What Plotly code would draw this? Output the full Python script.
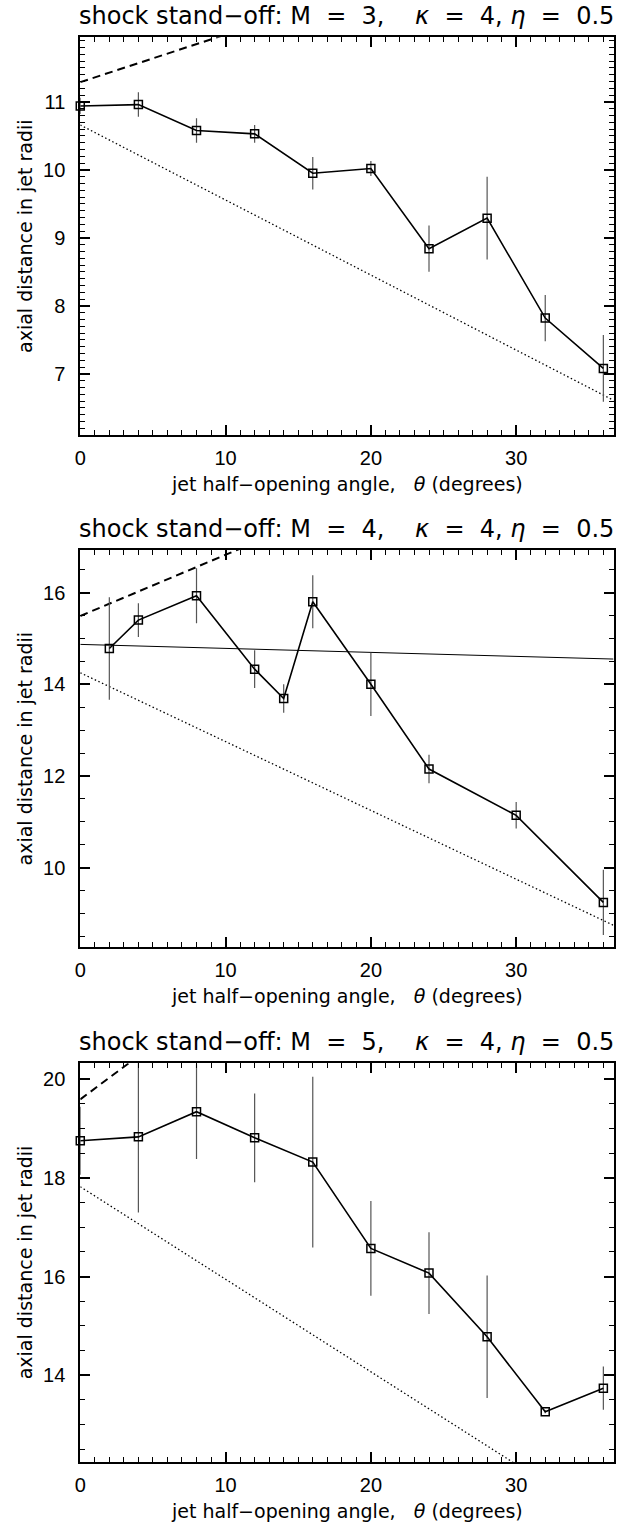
import plotly.graph_objects as go

W, H = 617, 1522

# ---------------- data ----------------
# Panel 1: M = 3
theta_m3 = [0, 4, 8, 12, 16, 20, 24, 28, 32, 36]
dist_m3 = [10.94, 10.96, 10.58, 10.53, 9.95, 10.02, 8.84, 9.29, 7.82, 7.08]
err_m3 = [0.12, 0.18, 0.18, 0.13, 0.24, 0.11, 0.34, 0.61, 0.34, 0.49]
dash_x_m3 = [0, 36.7]
dash_y_m3 = [11.29, 13.86]
dot_x_m3 = [0, 36.7]
dot_y_m3 = [10.66, 6.61]

# Panel 2: M = 4
theta_m4 = [2, 4, 8, 12, 14, 16, 20, 24, 30, 36]
dist_m4 = [14.78, 15.40, 15.93, 14.33, 13.69, 15.80, 14.00, 12.15, 11.14, 9.24]
err_m4 = [1.12, 0.37, 0.60, 0.41, 0.31, 0.58, 0.69, 0.31, 0.29, 0.71]
dash_x_m4 = [0, 36.7]
dash_y_m4 = [15.49, 20.39]
dot_x_m4 = [0, 36.7]
dot_y_m4 = [14.25, 8.74]
fit_x_m4 = [0, 36.7]
fit_y_m4 = [14.87, 14.55]

# Panel 3: M = 5
theta_m5 = [0, 4, 8, 12, 16, 20, 24, 28, 32, 36]
dist_m5 = [18.75, 18.83, 19.34, 18.81, 18.32, 16.57, 16.07, 14.78, 13.26, 13.74]
err_m5 = [0.69, 1.53, 0.96, 0.90, 1.73, 0.96, 0.83, 1.24, 0.03, 0.44]
dash_x_m5 = [0, 36.7]
dash_y_m5 = [19.59, 27.63]
dot_x_m5 = [0, 36.7]
dot_y_m5 = [17.82, 10.94]

mach_values = ["3", "4", "5"]
y_ranges = [[6.10, 11.95], [8.26, 16.93], [12.25, 20.32]]
y_dticks = [1, 2, 2]
y_minor = [0.1, 0.5, 0.5]
x_range = [0, 36.7]
x_dtick = 10
x_minor = 1

# ---------------- layout geometry (pixels) ----------------
left_px, right_px = 75, 613.5
panels_px = [(37.3, 435.0), (550.0, 947.3), (1063.3, 1461.7)]

FONT = "DejaVu Sans"
TICKFONT = "Liberation Sans"
fig = go.Figure()

panels = [
    (theta_m3, dist_m3, err_m3, dash_x_m3, dash_y_m3, dot_x_m3, dot_y_m3, None, None),
    (theta_m4, dist_m4, err_m4, dash_x_m4, dash_y_m4, dot_x_m4, dot_y_m4, fit_x_m4, fit_y_m4),
    (theta_m5, dist_m5, err_m5, dash_x_m5, dash_y_m5, dot_x_m5, dot_y_m5, None, None),
]

NB = "\u00a0"
EQ = NB * 2 + "=" + NB * 2
annotations = []
for i, (tx, dy, de, dsx, dsy, dtx, dty, fx, fy) in enumerate(panels):
    n = "" if i == 0 else str(i + 1)
    xa, ya = "x" + n, "y" + n
    fig.add_trace(go.Scatter(x=dsx, y=dsy, mode="lines", xaxis=xa, yaxis=ya,
                             line=dict(color="black", width=2, dash="8px,5px"), showlegend=False))
    fig.add_trace(go.Scatter(x=dtx, y=dty, mode="lines", xaxis=xa, yaxis=ya,
                             line=dict(color="black", width=1.3, dash="1.5px,2.5px"), showlegend=False))
    if fx is not None:
        fig.add_trace(go.Scatter(x=fx, y=fy, mode="lines", xaxis=xa, yaxis=ya,
                                 line=dict(color="black", width=1), showlegend=False))
    fig.add_trace(go.Scatter(x=tx, y=dy, mode="lines+markers", xaxis=xa, yaxis=ya,
                             line=dict(color="black", width=1.6),
                             marker=dict(symbol="square-open", size=8, color="black",
                                         line=dict(width=1.5, color="black")),
                             error_y=dict(type="data", array=de, visible=True, width=0,
                                          thickness=1.2, color="#555555"),
                             cliponaxis=False, showlegend=False))

    top_px, bot_px = panels_px[i]
    dom_y = [1 - bot_px / H, 1 - top_px / H]
    axis_common = dict(showline=True, linewidth=2, linecolor="black", mirror="allticks",
                       ticks="inside", tickcolor="black", tickwidth=1.6, ticklen=10,
                       showgrid=False, zeroline=False, tick0=0,
                       tickfont=dict(family=TICKFONT, size=20, color="black"))
    fig.layout["xaxis" + n] = dict(
        domain=[left_px / W, right_px / W], range=x_range, anchor=ya,
        dtick=x_dtick, ticklabelstandoff=4,
        minor=dict(ticks="inside", dtick=x_minor, tick0=0, ticklen=5, tickcolor="black",
                   tickwidth=1.4, showgrid=False),
        **axis_common)
    fig.layout["yaxis" + n] = dict(
        domain=dom_y, range=y_ranges[i], anchor=xa,
        dtick=y_dticks[i], ticklabelstandoff=9,
        minor=dict(ticks="inside", dtick=y_minor[i], tick0=0, ticklen=5, tickcolor="black",
                   tickwidth=1.4, showgrid=False),
        **axis_common)

    # title
    annotations.append(dict(
        text="shock stand\u2212off:" + NB + "M" + EQ + mach_values[i] + "," + NB * 4
             + "<i>\u03ba</i>" + EQ + "4," + NB + "<i>\u03b7</i>" + EQ + "0.5",
        x=(left_px + right_px) / 2 / W, y=1 - (top_px - 5) / H, xref="paper", yref="paper",
        xanchor="center", yanchor="bottom", showarrow=False,
        font=dict(family=FONT, size=24, color="black")))
    # x title
    annotations.append(dict(
        text="jet half\u2212opening angle," + NB * 3 + "<i>\u03b8</i>" + NB + "(degrees)",
        x=344 / W, y=1 - (bot_px + 49) / H, xref="paper", yref="paper",
        xanchor="center", yanchor="middle", showarrow=False,
        font=dict(family=FONT, size=19, color="black")))
    # y title
    annotations.append(dict(
        text="axial distance in jet radii",
        x=19 / W, y=1 - (top_px + bot_px) / 2 / H, xref="paper", yref="paper",
        xanchor="center", yanchor="middle", textangle=-90, showarrow=False,
        font=dict(family=FONT, size=19, color="black")))

fig.update_layout(width=W, height=H, margin=dict(l=0, r=0, t=0, b=0),
                  paper_bgcolor="white", plot_bgcolor="white",
                  annotations=annotations)

fig.write_html("out.html")
